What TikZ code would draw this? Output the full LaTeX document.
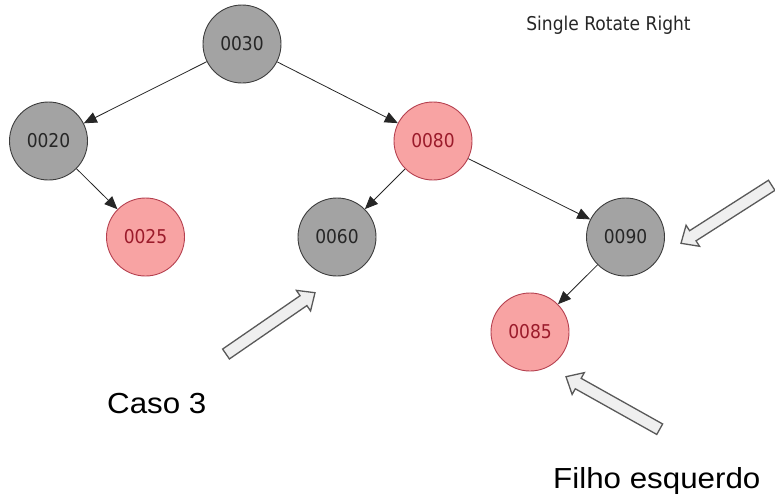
\documentclass[tikz,border=0pt]{standalone}
\usepackage{fontspec}
\setmainfont{Liberation Sans}
\newfontfamily\nodefont{DejaVu Sans Condensed}
\usetikzlibrary{arrows.meta,calc}
\definecolor{grayfill}{HTML}{A3A3A3}
\definecolor{graydraw}{HTML}{3C3C3C}
\definecolor{graytext}{HTML}{262626}
\definecolor{pinkfill}{HTML}{F8A3A3}
\definecolor{pinkdraw}{HTML}{B5404F}
\definecolor{pinktext}{HTML}{9B1B2B}
\definecolor{barrowfill}{HTML}{EFEFEF}
\definecolor{barrowdraw}{HTML}{595959}
\tikzset{
  treenode/.style={circle, minimum size=78pt, inner sep=0pt, line width=0.9pt,
    font=\nodefont\fontsize{19}{19}\selectfont},
  blacknode/.style={treenode, fill=grayfill, draw=graydraw, text=graytext},
  rednode/.style={treenode, fill=pinkfill, draw=pinkdraw, text=pinktext},
  edge/.style={draw=black!85, line width=0.8pt, -{Triangle[length=13pt,width=11pt]}},
  barrow/.style={draw=barrowdraw, fill=barrowfill, line width=1.3pt, line join=miter},
  bigtext/.style={font=\fontsize{29}{29}\selectfont, xscale=1.08, anchor=base west, inner sep=0pt}
}
\newcommand\myblockarrow[2]{%
  \coordinate (hb) at ($(#2)!14pt!(#1)$);
  \draw[barrow] ($(#1)!6pt!90:(#2)$) -- ($(hb)!6pt!90:(#2)$) -- ($(hb)!12.5pt!90:(#2)$)
    -- (#2) -- ($(hb)!12.5pt!-90:(#2)$) -- ($(hb)!6pt!-90:(#2)$) -- ($(#1)!6pt!-90:(#2)$) -- cycle;
}
\begin{document}
\begin{tikzpicture}[x=1pt,y=-1pt]
\useasboundingbox (0,0) rectangle (775,501);
\node[blacknode] (n30) at (242,44) {0030};
\node[blacknode] (n20) at (48.5,141) {0020};
\node[rednode] (n80) at (433,141) {0080};
\node[rednode] (n25) at (145.5,237) {0025};
\node[blacknode] (n60) at (337,237) {0060};
\node[blacknode] (n90) at (625.5,237) {0090};
\node[rednode] (n85) at (530,332) {0085};
\draw[edge] (n30) -- (n20);
\draw[edge] (n30) -- (n80);
\draw[edge] (n20) -- (n25);
\draw[edge] (n80) -- (n60);
\draw[edge] (n80) -- (n90);
\draw[edge] (n90) -- (n85);
\node[font=\nodefont\fontsize{19}{19}\selectfont, text=graytext, anchor=base, inner sep=0pt] (title) at (608.5,30.7) {Single Rotate Right};
\node[bigtext] (caso) at (107,413.3) {Caso 3};
\node[bigtext] (filho) at (553,488.3) {Filho esquerdo};
\coordinate (t1) at (226,354); \coordinate (p1) at (315,292.7);
\coordinate (t2) at (771.7,185.3); \coordinate (p2) at (681,243.3);
\coordinate (t3) at (659.7,429.2); \coordinate (p3) at (566,376.7);
\myblockarrow{t1}{p1}
\myblockarrow{t2}{p2}
\myblockarrow{t3}{p3}
\end{tikzpicture}
\end{document}
